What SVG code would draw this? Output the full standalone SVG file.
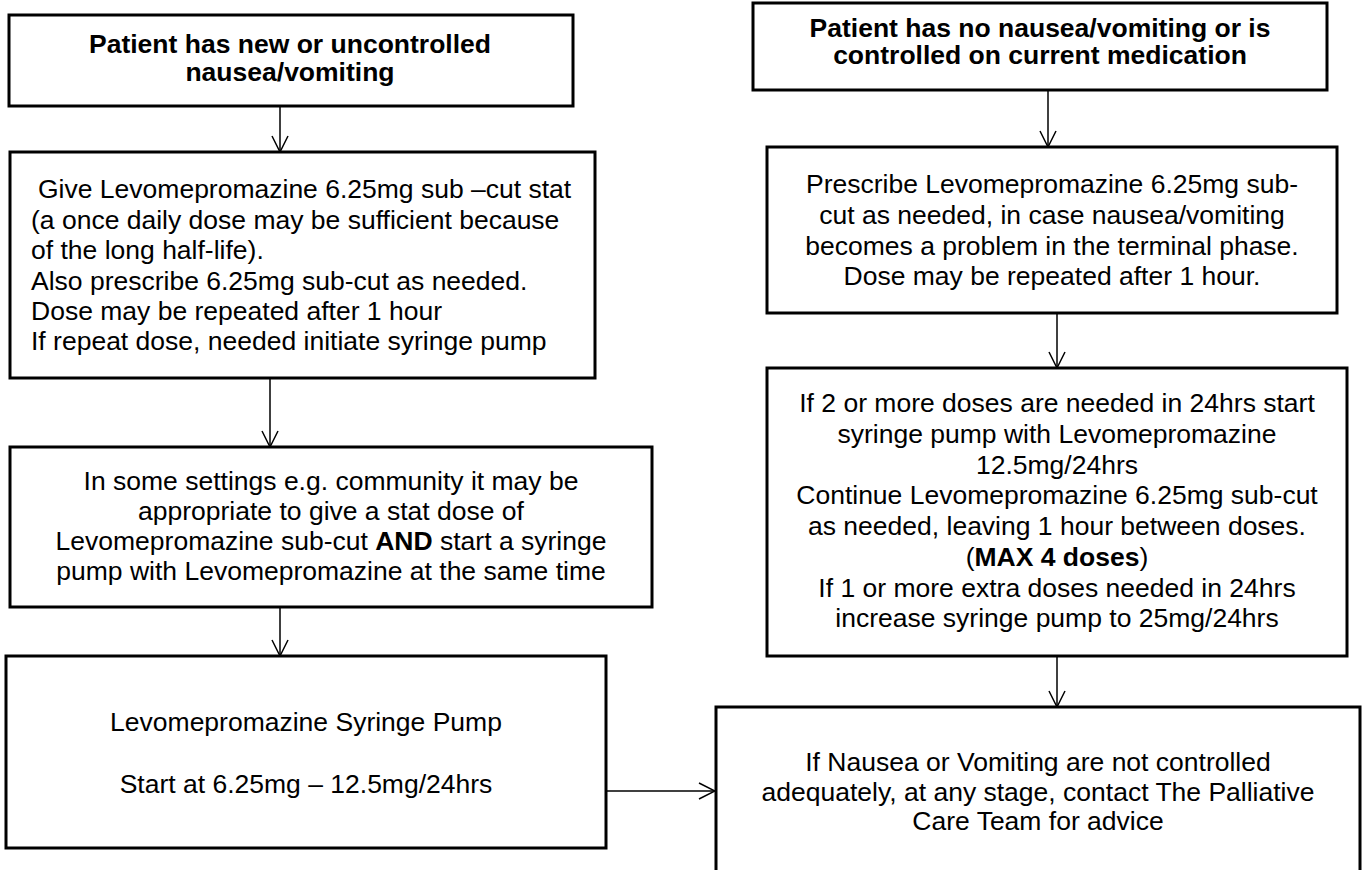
<svg xmlns="http://www.w3.org/2000/svg" width="1363" height="870" viewBox="0 0 1363 870">
<style>
.box{fill:#fff;stroke:#000;stroke-width:3}
.t{font-family:"Liberation Sans",Arial,sans-serif;font-size:26.5px;fill:#000}
.b{font-weight:bold}
.c{text-anchor:middle}
.conn{stroke:#000;stroke-width:1.5;fill:none}
</style>
<defs>
<marker id="ah" viewBox="0 0 18 18" refX="17" refY="9" markerWidth="18" markerHeight="18" markerUnits="userSpaceOnUse" orient="auto">
<path d="M1,1 L17,9 L1,17" fill="none" stroke="#000" stroke-width="1.5"/>
</marker>
</defs>
<rect width="1363" height="870" fill="#fff"/>
<g id="connectors">
<line class="conn" x1="280" y1="106" x2="280" y2="152" marker-end="url(#ah)"/>
<line class="conn" x1="1048" y1="90" x2="1048" y2="147" marker-end="url(#ah)"/>
<line class="conn" x1="270" y1="378" x2="270" y2="447" marker-end="url(#ah)"/>
<line class="conn" x1="280" y1="607" x2="280" y2="656" marker-end="url(#ah)"/>
<line class="conn" x1="1057" y1="313" x2="1057" y2="368" marker-end="url(#ah)"/>
<line class="conn" x1="1057" y1="656" x2="1057" y2="707" marker-end="url(#ah)"/>
<line class="conn" x1="606" y1="791" x2="715" y2="791" marker-end="url(#ah)"/>
</g>
<g id="n1">
<rect class="box" x="9" y="15" width="564" height="91"/>
<text class="t b c" x="290" y="53">Patient has new or uncontrolled</text>
<text class="t b c" x="290" y="81">nausea/vomiting</text>
</g>
<g id="n2">
<rect class="box" x="753" y="3" width="574" height="87"/>
<text class="t b c" x="1040" y="37">Patient has no nausea/vomiting or is</text>
<text class="t b c" x="1040" y="64">controlled on current medication</text>
</g>
<g id="n3">
<rect class="box" x="10" y="152" width="585" height="226"/>
<text class="t" x="38" y="198">Give Levomepromazine 6.25mg sub –cut stat</text>
<text class="t" x="31" y="229">(a once daily dose may be sufficient because</text>
<text class="t" x="31" y="259">of the long half-life).</text>
<text class="t" x="31" y="290">Also prescribe 6.25mg sub-cut as needed.</text>
<text class="t" x="31" y="320">Dose may be repeated after 1 hour</text>
<text class="t" x="31" y="350">If repeat dose, needed initiate syringe pump</text>
</g>
<g id="n4">
<rect class="box" x="767" y="147" width="570" height="166"/>
<text class="t c" x="1052" y="193">Prescribe Levomepromazine 6.25mg sub-</text>
<text class="t c" x="1052" y="224">cut as needed, in case nausea/vomiting</text>
<text class="t c" x="1052" y="255">becomes a problem in the terminal phase.</text>
<text class="t c" x="1052" y="285">Dose may be repeated after 1 hour.</text>
</g>
<g id="n5">
<rect class="box" x="10" y="447" width="642" height="160"/>
<text class="t c" x="331" y="490">In some settings e.g. community it may be</text>
<text class="t c" x="331" y="520">appropriate to give a stat dose of</text>
<text class="t c" x="331" y="550">Levomepromazine sub-cut <tspan class="b">AND</tspan> start a syringe</text>
<text class="t c" x="331" y="580">pump with Levomepromazine at the same time</text>
</g>
<g id="n6">
<rect class="box" x="767" y="368" width="580" height="288"/>
<text class="t c" x="1057" y="412">If 2 or more doses are needed in 24hrs start</text>
<text class="t c" x="1057" y="443">syringe pump with Levomepromazine</text>
<text class="t c" x="1057" y="474">12.5mg/24hrs</text>
<text class="t c" x="1057" y="504">Continue Levomepromazine 6.25mg sub-cut</text>
<text class="t c" x="1057" y="535">as needed, leaving 1 hour between doses.</text>
<text class="t c" x="1057" y="566">(<tspan class="b">MAX 4 doses</tspan>)</text>
<text class="t c" x="1057" y="597">If 1 or more extra doses needed in 24hrs</text>
<text class="t c" x="1057" y="627">increase syringe pump to 25mg/24hrs</text>
</g>
<g id="n7">
<rect class="box" x="6" y="656" width="600" height="192"/>
<text class="t c" x="306" y="731">Levomepromazine Syringe Pump</text>
<text class="t c" x="306" y="793">Start at 6.25mg – 12.5mg/24hrs</text>
</g>
<g id="n8">
<rect class="box" x="716" y="707" width="644" height="180"/>
<text class="t c" x="1038" y="771">If Nausea or Vomiting are not controlled</text>
<text class="t c" x="1038" y="801">adequately, at any stage, contact The Palliative</text>
<text class="t c" x="1038" y="830">Care Team for advice</text>
</g>
</svg>
